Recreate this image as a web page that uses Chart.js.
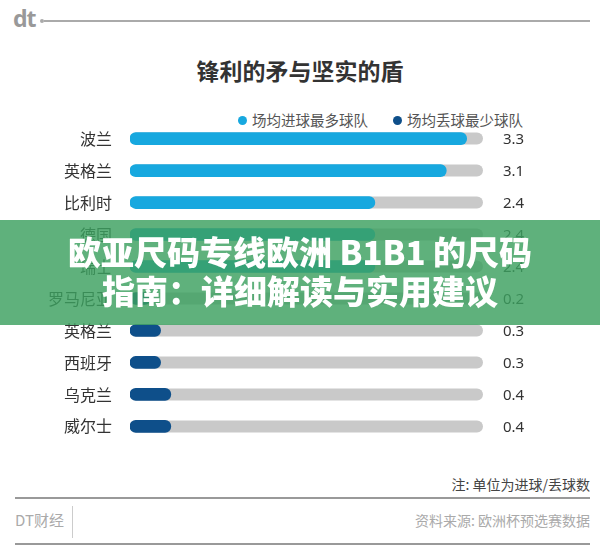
<!DOCTYPE html>
<html>
<head>
<meta charset="utf-8">
<script src="https://cdn.jsdelivr.net/npm/chart.js@4"></script>
<style>
  body { margin: 0; width: 600px; height: 545px; background: #fff; position: relative; overflow: hidden;
         font-family: "Noto Sans CJK SC", "Noto Sans", sans-serif; }
  .abs { position: absolute; }
  #logo { left: 13px; top: 2px; font: bold 23px "Noto Sans", sans-serif; color: #999; letter-spacing: -1px; }
  #logoLine { left: 44px; top: 20px; width: 546px; height: 2px; background: #aaa; }
  #logoDot { left: 40px; top: 19px; width: 4px; height: 4px; border-radius: 2px; background: #aaa; }
  #title { left: 0; width: 600px; top: 53px; text-align: center; font-size: 23px; font-weight: bold; color: #333; }
  .leg { top: 109px; font-size: 14.5px; color: #555; }
  .dot { display: inline-block; width: 9px; height: 9px; border-radius: 5px; margin-right: 5px; vertical-align: 1px; }
  #myChart { left: 0; top: 95px; }
  #banner { left: 0; top: 220px; width: 600px; height: 105px; background: rgba(60,160,95,0.82);
            color: #fff; text-align: center; font-size: 33px; font-weight: 900; line-height: 39px;
            padding-top: 12px; box-sizing: border-box; }
  #note { right: 10px; top: 474px; font-size: 14px; color: #444; }
  #line1 { left: 15px; top: 497px; width: 575px; height: 2px; background: #999; }
  #brand { left: 15px; top: 509px; font-size: 15px; color: #aaa; }
  #divider { left: 72px; top: 506px; width: 1px; height: 32px; background: #ccc; }
  #source { right: 10px; top: 510px; font-size: 14px; color: #aaa; }
  #line2 { left: 15px; top: 543px; width: 575px; height: 2px; background: #999; }
</style>
</head>
<body>
<div id="logo" class="abs">dt</div>
<div id="logoDot" class="abs"></div>
<div id="logoLine" class="abs"></div>
<div id="title" class="abs">锋利的矛与坚实的盾</div>
<div class="abs leg" style="left:238px"><span class="dot" style="background:#17a8df"></span>场均进球最多球队</div>
<div class="abs leg" style="left:393px"><span class="dot" style="background:#0e4f8a"></span>场均丢球最少球队</div>
<canvas id="myChart" class="abs" width="600" height="375"></canvas>
<div id="banner" class="abs">欧亚尺码专线欧洲 B1B1 的尺码<br>指南：详细解读与实用建议</div>
<div id="note" class="abs">注: 单位为进球/丢球数</div>
<div id="line1" class="abs"></div>
<div id="brand" class="abs">DT财经</div>
<div id="divider" class="abs"></div>
<div id="source" class="abs">资料来源: 欧洲杯预选赛数据</div>
<div id="line2" class="abs"></div>
<script>
  // data
  const teams = ['波兰', '英格兰', '比利时', '德国', '瑞士', '罗马尼亚', '英格兰', '西班牙', '乌克兰', '威尔士'];
  const scored = [3.3, 3.1, 2.4, 2.4, 2.4, null, null, null, null, null];
  const conceded = [null, null, null, null, null, 0.2, 0.3, 0.3, 0.4, 0.4];
  const axisMax = 3.46;

  // gray track behind each bar + value text on the right
  const trackPlugin = {
    id: 'tracks',
    beforeDatasetsDraw(chart) {
      const { ctx, chartArea, scales } = chart;
      ctx.save();
      ctx.fillStyle = '#c9c9c9';
      teams.forEach((t, i) => {
        const y = scales.y.getPixelForValue(i);
        ctx.beginPath();
        ctx.roundRect(chartArea.left, y - 6, chartArea.right - chartArea.left, 12, 6);
        ctx.fill();
      });
      ctx.restore();
    },
    afterDatasetsDraw(chart) {
      const { ctx, chartArea, scales } = chart;
      ctx.save();
      ctx.font = '15px "Noto Sans", sans-serif';
      ctx.fillStyle = '#333';
      ctx.textBaseline = 'middle';
      teams.forEach((t, i) => {
        const v = scored[i] != null ? scored[i] : conceded[i];
        ctx.fillText(v.toFixed(1), chartArea.right + 20, scales.y.getPixelForValue(i) + 1);
      });
      ctx.restore();
    }
  };

  const ctx = document.getElementById('myChart').getContext('2d');
  const myChart = new Chart(ctx, {
    type: 'bar',
    data: {
      labels: teams,
      datasets: [{
        label: '场均进球最多球队',
        data: scored,
        backgroundColor: '#17a8df',
      }, {
        label: '场均丢球最少球队',
        data: conceded,
        backgroundColor: '#0e4f8a',
      }]
    },
    options: {
      indexAxis: 'y',
      responsive: false,
      animation: false,
      grouped: false,
      barThickness: 12,
      borderRadius: 6,
      borderSkipped: false,
      layout: { padding: { left: 0, right: 117, top: 0, bottom: 0 } },
      scales: {
        x: { display: false, min: 0, max: axisMax },
        y: {
          grid: { display: false, drawTicks: false },
          border: { display: false },
          ticks: { padding: 18, color: '#333', font: { size: 16, family: '"Noto Sans CJK SC"' } },
          afterFit: s => { s.width = 130; }
        }
      },
      plugins: {
        legend: { display: false },
        tooltip: { enabled: false }
      }
    },
    plugins: [trackPlugin]
  });
</script>
</body>
</html>
